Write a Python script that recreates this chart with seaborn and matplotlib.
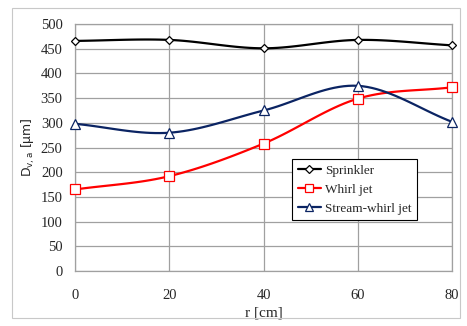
import numpy as np
import pandas as pd
import matplotlib
matplotlib.use("Agg")
import matplotlib.pyplot as plt
import seaborn as sns
from matplotlib.lines import Line2D
from matplotlib.patches import Rectangle

# ── Data ──────────────────────────────────────────────────────────────────────
r_cm = [0, 20, 40, 60, 80]
sprinkler = [466, 468, 451, 468, 457]
whirljet = [165, 192, 258, 349, 372]
stream_whirljet = [298, 280, 325, 375, 302]
series_names = ["Sprinkler", "Whirl jet", "Stream-whirl jet"]

COLORS = {"Sprinkler": "#000000", "Whirl jet": "#ff0000", "Stream-whirl jet": "#0b2463"}
MARKERS = {"Sprinkler": ("D", 4.5), "Whirl jet": ("s", 7), "Stream-whirl jet": ("^", 6.5)}
SERIF = "Liberation Serif"


def smooth(x, y, n=20):
    # Excel-style smoothed line (Catmull-Rom through the points)
    x = np.asarray(x, float)
    y = np.asarray(y, float)
    px = np.concatenate([[2 * x[0] - x[1]], x, [2 * x[-1] - x[-2]]])
    py = np.concatenate([[2 * y[0] - y[1]], y, [2 * y[-1] - y[-2]]])
    xs, ys = [], []
    t = np.linspace(0, 1, n, endpoint=False)
    for i in range(1, len(px) - 2):
        for p, out in ((px, xs), (py, ys)):
            p0, p1, p2, p3 = p[i - 1], p[i], p[i + 1], p[i + 2]
            out.extend(0.5 * (2 * p1 + (-p0 + p2) * t
                              + (2 * p0 - 5 * p1 + 4 * p2 - p3) * t ** 2
                              + (-p0 + 3 * p1 - 3 * p2 + p3) * t ** 3))
    xs.append(x[-1])
    ys.append(y[-1])
    return np.array(xs), np.array(ys)


points = pd.DataFrame({
    "r": r_cm * 3,
    "D": sprinkler + whirljet + stream_whirljet,
    "series": np.repeat(series_names, len(r_cm)),
})

curves = []
for name, vals in zip(series_names, [sprinkler, whirljet, stream_whirljet]):
    sx, sy = smooth(r_cm, vals)
    curves.append(pd.DataFrame({"r": sx, "D": sy, "series": name}))
curves = pd.concat(curves, ignore_index=True)

# ── Plot ──────────────────────────────────────────────────────────────────────
sns.set_style("white")
fig = plt.figure(figsize=(4.67, 3.26), dpi=100)
ax = fig.add_axes([0.161, 0.169, 0.807, 0.757])

sns.lineplot(data=curves, x="r", y="D", hue="series", palette=COLORS,
             linewidth=1.6, legend=False, ax=ax, sort=False, estimator=None)
for name in series_names:
    m, s = MARKERS[name]
    sub = points[points["series"] == name]
    ax.plot(sub["r"], sub["D"], linestyle="none", marker=m, markersize=s,
            markerfacecolor="white", markeredgecolor=COLORS[name],
            markeredgewidth=0.9, zorder=5, clip_on=False)

ax.set_xlim(0, 80)
ax.set_ylim(0, 500)
ax.set_xticks(r_cm)
ax.set_yticks(range(0, 501, 50))
ax.grid(True, color="#a0a0a0", linewidth=0.9)
ax.set_axisbelow(True)
for sp in ax.spines.values():
    sp.set_color("#a0a0a0")
    sp.set_linewidth(0.9)
ax.tick_params(length=0, labelsize=10.5)
ax.tick_params(axis="x", pad=13)
ax.tick_params(axis="y", pad=9)
for lab in ax.get_xticklabels() + ax.get_yticklabels():
    lab.set_fontfamily(SERIF)

ax.set_xlabel("r [cm]", fontsize=11, fontfamily=SERIF, labelpad=3)
ax.set_ylabel(r"D$_{\mathregular{v,a}}$ [µm]", fontsize=9, fontfamily="DejaVu Sans")
ax.yaxis.set_label_coords(-0.102, 0.5)

handles = [Line2D([], [], color=COLORS[n], linewidth=1.6, marker=MARKERS[n][0],
                  markersize=MARKERS[n][1] * 0.85, markerfacecolor="white",
                  markeredgecolor=COLORS[n], markeredgewidth=0.9)
           for n in series_names]
leg = ax.legend(handles, series_names, loc="upper left", bbox_to_anchor=(0.576, 0.452),
                frameon=True, fancybox=False, framealpha=1, edgecolor="black",
                prop={"family": SERIF, "size": 9.5}, handlelength=1.8,
                borderaxespad=0, labelspacing=0.5, handletextpad=0.3, borderpad=0.4)
leg.get_frame().set_linewidth(0.8)

fig.patches.append(Rectangle((12 / 467, 8 / 326), 448 / 467, 310 / 326,
                             transform=fig.transFigure, fill=False,
                             edgecolor="#c8c8c8", linewidth=0.8))

fig.savefig("out.png", dpi=100)
